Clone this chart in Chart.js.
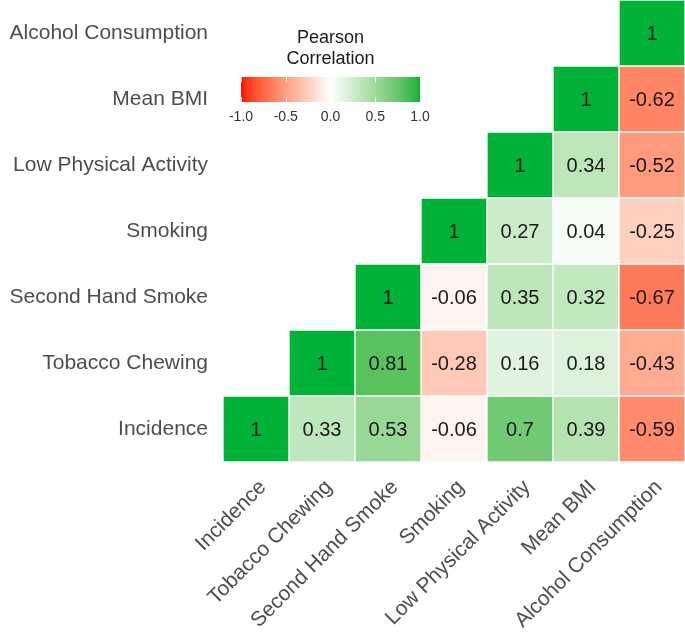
<!DOCTYPE html>
<html>
<head>
<meta charset="utf-8">
<script src="https://cdn.jsdelivr.net/npm/chart.js@4"></script>
<style>
  html, body { margin: 0; padding: 0; background: #fff; }
  #wrap { width: 685px; height: 633px; }
</style>
</head>
<body>
<div id="wrap"><canvas id="heatmap"></canvas></div>
<script>
// variables, bottom-to-top on y, left-to-right on x
const variables = ['Incidence', 'Tobacco Chewing', 'Second Hand Smoke', 'Smoking',
                   'Low Physical Activity', 'Mean BMI', 'Alcohol Consumption'];

// each row holds correlations with the columns from its own position to the right
const rowIncidence = [1, 0.33, 0.53, -0.06, 0.7, 0.39, -0.59];
const rowTobacco   = [1, 0.81, -0.28, 0.16, 0.18, -0.43];
const rowSecondHand = [1, -0.06, 0.35, 0.32, -0.67];
const rowSmoking   = [1, 0.27, 0.04, -0.25];
const rowActivity  = [1, 0.34, -0.52];
const rowBMI       = [1, -0.62];
const rowAlcohol   = [1];

const legendTicks = [-1.0, -0.5, 0.0, 0.5, 1.0];

const rows = [rowIncidence, rowTobacco, rowSecondHand, rowSmoking, rowActivity, rowBMI, rowAlcohol];

// --- colour ramp in Lab space (like ggplot gradient2: red - white - green)
const LOW = [255, 0, 0], MID = [255, 255, 255], HIGH = [0, 178, 56];

function toLin(c) { c /= 255; return c <= 0.04045 ? c / 12.92 : Math.pow((c + 0.055) / 1.055, 2.4); }
function fromLin(c) { c = c <= 0.0031308 ? 12.92 * c : 1.055 * Math.pow(c, 1 / 2.4) - 0.055; return Math.round(Math.max(0, Math.min(1, c)) * 255); }
function rgb2lab(rgb) {
    const r = toLin(rgb[0]), g = toLin(rgb[1]), b = toLin(rgb[2]);
    let x = (r * 0.4124 + g * 0.3576 + b * 0.1805) / 0.95047;
    let y = (r * 0.2126 + g * 0.7152 + b * 0.0722);
    let z = (r * 0.0193 + g * 0.1192 + b * 0.9505) / 1.08883;
    const f = t => t > 0.008856 ? Math.cbrt(t) : 7.787 * t + 16 / 116;
    x = f(x); y = f(y); z = f(z);
    return [116 * y - 16, 500 * (x - y), 200 * (y - z)];
}
function lab2rgb(lab) {
    let y = (lab[0] + 16) / 116, x = lab[1] / 500 + y, z = y - lab[2] / 200;
    const fi = t => t * t * t > 0.008856 ? t * t * t : (t - 16 / 116) / 7.787;
    x = fi(x) * 0.95047; y = fi(y); z = fi(z) * 1.08883;
    const r = x * 3.2406 + y * -1.5372 + z * -0.4986;
    const g = x * -0.9689 + y * 1.8758 + z * 0.0415;
    const b = x * 0.0557 + y * -0.2040 + z * 1.0570;
    return [fromLin(r), fromLin(g), fromLin(b)];
}
const labLow = rgb2lab(LOW), labMid = rgb2lab(MID), labHigh = rgb2lab(HIGH);
function corrColor(v) {
    const b = v < 0 ? labLow : labHigh;
    const t = Math.abs(v);
    const lab = [0, 1, 2].map(i => labMid[i] + (b[i] - labMid[i]) * t);
    const c = lab2rgb(lab);
    return 'rgb(' + c[0] + ',' + c[1] + ',' + c[2] + ')';
}

// one floating-bar dataset per row
const datasets = rows.map((vals, r) => {
    const data = variables.map((v, c) => c < r ? null : [r - 0.5, r + 0.5]);
    const colors = variables.map((v, c) => c < r ? 'transparent' : corrColor(vals[c - r]));
    return {
        label: variables[r],
        data: data,
        corr: vals,
        rowIndex: r,
        backgroundColor: colors,
        borderColor: 'rgba(255,255,255,0.9)',
        borderWidth: 1,
        borderSkipped: false,
        barPercentage: 1,
        categoryPercentage: 1,
        grouped: false
    };
});

// draw the correlation numbers in each cell
const cellText = {
    id: 'cellText',
    afterDatasetsDraw(chart) {
        const ctx = chart.ctx;
        ctx.save();
        ctx.font = '20px "Liberation Sans", Arial, sans-serif';
        ctx.fillStyle = '#1a1a1a';
        ctx.textAlign = 'center';
        ctx.textBaseline = 'middle';
        chart.data.datasets.forEach((ds, di) => {
            const meta = chart.getDatasetMeta(di);
            meta.data.forEach((bar, c) => {
                if (ds.data[c] === null) return;
                const v = ds.corr[c - ds.rowIndex];
                const p = bar.getProps(['x', 'y', 'base'], true);
                ctx.fillText(String(v), p.x, (p.y + p.base) / 2 + 1);
            });
        });
        ctx.restore();
    }
};

// colourbar legend in the empty upper-left triangle
const colorbar = {
    id: 'colorbar',
    afterDraw(chart) {
        const ctx = chart.ctx;
        const x0 = 241, x1 = 420, y0 = 77, y1 = 102;
        ctx.save();
        ctx.fillStyle = '#1a1a1a';
        ctx.textAlign = 'center';
        ctx.textBaseline = 'middle';
        ctx.font = '18px "Liberation Sans", Arial, sans-serif';
        ctx.fillText('Pearson', (x0 + x1) / 2, 38);
        ctx.fillText('Correlation', (x0 + x1) / 2, 59);
        for (let x = x0; x < x1; x++) {
            const v = -1 + 2 * (x - x0 + 0.5) / (x1 - x0);
            ctx.fillStyle = corrColor(v);
            ctx.fillRect(x, y0, 1, y1 - y0);
        }
        ctx.strokeStyle = 'rgba(255,255,255,0.8)';
        ctx.lineWidth = 1;
        ctx.fillStyle = '#333333';
        ctx.font = '14px "Liberation Sans", Arial, sans-serif';
        legendTicks.forEach(t => {
            const x = x0 + (t + 1) / 2 * (x1 - x0);
            ctx.beginPath();
            ctx.moveTo(Math.round(x) + 0.5, y0); ctx.lineTo(Math.round(x) + 0.5, y0 + 5);
            ctx.moveTo(Math.round(x) + 0.5, y1 - 5); ctx.lineTo(Math.round(x) + 0.5, y1);
            ctx.stroke();
            ctx.fillText(t.toFixed(1), x, 117);
        });
        ctx.restore();
    }
};

const ctx = document.getElementById('heatmap').getContext('2d');
new Chart(ctx, {
    type: 'bar',
    data: { labels: variables, datasets: datasets },
    options: {
        responsive: true,
        maintainAspectRatio: false,
        animation: false,
        layout: { padding: 0 },
        plugins: { legend: { display: false }, tooltip: { enabled: false } },
        scales: {
            x: {
                type: 'category',
                grid: { display: false },
                border: { display: false },
                ticks: {
                    minRotation: 45, maxRotation: 45,
                    color: '#4d4d4d',
                    padding: 5,
                    labelOffset: 7,
                    font: { family: '"Liberation Sans", Arial, sans-serif', size: 21 }
                },
                afterFit(scale) {
                    scale.height = 171;
                    scale.paddingLeft = 0; scale.paddingRight = 0;
                }
            },
            y: {
                type: 'linear',
                min: -0.5, max: 6.5,
                grid: { display: false },
                border: { display: false },
                afterBuildTicks(scale) { scale.ticks = variables.map((v, i) => ({ value: i })); },
                ticks: {
                    color: '#4d4d4d',
                    padding: 7,
                    autoSkip: false,
                    font: { family: '"Liberation Sans", Arial, sans-serif', size: 21 },
                    callback: (value) => variables[value]
                },
                afterFit(scale) {
                    scale.width = 223;
                    scale.paddingTop = 0; scale.paddingBottom = 0;
                }
            }
        }
    },
    plugins: [cellText, colorbar]
});
</script>
</body>
</html>
